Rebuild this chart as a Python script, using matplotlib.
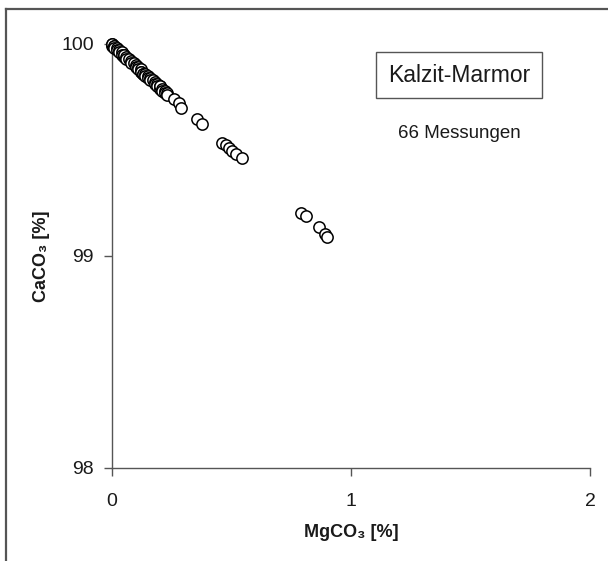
import matplotlib
matplotlib.use("Agg")
import matplotlib.pyplot as plt
from matplotlib.lines import Line2D

plt.rcParams['font.family'] = ['Liberation Sans', 'DejaVu Sans']

mgco3 = [0.00, 0.00, 0.00, 0.01, 0.01, 0.01, 0.02, 0.02, 0.03, 0.03,
         0.04, 0.04, 0.05, 0.05, 0.05, 0.06, 0.06, 0.07, 0.08, 0.08,
         0.09, 0.10, 0.10, 0.11, 0.11, 0.12, 0.12, 0.12, 0.13, 0.13,
         0.14, 0.14, 0.15, 0.15, 0.16, 0.16, 0.17, 0.18, 0.18, 0.19,
         0.19, 0.20, 0.20, 0.20, 0.21, 0.21, 0.22, 0.22, 0.23, 0.23,
         0.26, 0.28, 0.29, 0.355, 0.375, 0.46, 0.475, 0.49, 0.50, 0.52,
         0.545, 0.79, 0.81, 0.865, 0.89, 0.90]
caco3 = [100.00, 99.99, 100.00, 99.99, 99.99, 99.98, 99.98, 99.97, 99.97, 99.96,
         99.96, 99.95, 99.95, 99.94, 99.95, 99.94, 99.93, 99.93, 99.92, 99.91,
         99.91, 99.90, 99.89, 99.89, 99.88, 99.88, 99.87, 99.87, 99.86, 99.86,
         99.86, 99.85, 99.85, 99.84, 99.84, 99.83, 99.83, 99.82, 99.81, 99.81,
         99.80, 99.80, 99.79, 99.80, 99.79, 99.78, 99.78, 99.77, 99.77, 99.76,
         99.74, 99.72, 99.70, 99.645, 99.625, 99.535, 99.525, 99.51, 99.495, 99.48,
         99.46, 99.205, 99.19, 99.135, 99.105, 99.09]
x_ticks = [0, 1, 2]
y_ticks = [98, 99, 100]
title_box = "Kalzit-Marmor"
count_text = "66 Messungen"

fig = plt.figure(figsize=(6.08, 5.61), dpi=100)
ax = fig.add_axes([112/608, 1-468/561, (590-112)/608, (468-44)/561])

ax.scatter(mgco3, caco3, s=66, facecolors='white', edgecolors='black',
           linewidths=1.1, zorder=5, clip_on=False)

ax.set_xlim(0, 2)
ax.set_ylim(98, 100)
ax.set_xticks(x_ticks)
ax.set_yticks(y_ticks)
ax.set_xticklabels([str(t) for t in x_ticks])
ax.set_yticklabels([str(t) for t in y_ticks])
for s in ['top', 'right']:
    ax.spines[s].set_visible(False)
for s in ['left', 'bottom']:
    ax.spines[s].set_color('#555555')
    ax.spines[s].set_linewidth(1.0)
ax.tick_params(direction='out', length=6, width=1.0, color='#555555',
               labelsize=14, labelcolor='#1a1a1a')
ax.tick_params(axis='y', pad=7)
ax.tick_params(axis='x', pad=12)

ax.set_xlabel("MgCO\u2083 [%]", fontsize=13, fontweight='bold', labelpad=10)
ax.set_ylabel("CaCO\u2083 [%]", fontsize=13, fontweight='bold', labelpad=8)
ax.xaxis.label.set_color('#1a1a1a')
ax.yaxis.label.set_color('#1a1a1a')

fig.text(459/608, 1-75/561, title_box, fontsize=16.5, ha='center', va='center',
         color='#1a1a1a',
         bbox=dict(boxstyle='square,pad=0.5', facecolor='white',
                   edgecolor='#555555', linewidth=1.0))
fig.text(459/608, 1-133/561, count_text, fontsize=13.5, ha='center',
         va='center', color='#1a1a1a')

fig.add_artist(Line2D([6/608, 1], [1-9/561, 1-9/561], transform=fig.transFigure,
                      color='#555555', linewidth=1.6))
fig.add_artist(Line2D([6/608, 6/608], [0, 1-9/561], transform=fig.transFigure,
                      color='#555555', linewidth=1.6))

fig.savefig("out.png", dpi=100, facecolor='white')
